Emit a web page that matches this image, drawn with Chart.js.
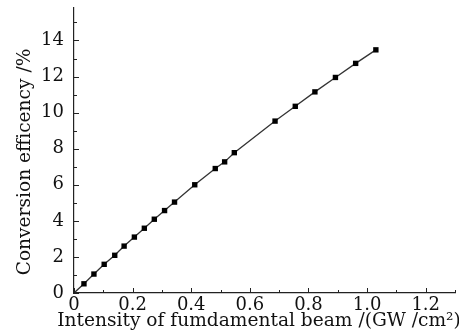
<!DOCTYPE html>
<html>
<head>
<meta charset="utf-8">
<script src="https://cdn.jsdelivr.net/npm/chart.js@4/dist/chart.umd.min.js"></script>
<style>
  html, body { margin: 0; padding: 0; background: #fff; }
  #wrap { width: 459px; height: 334px; position: relative; }
</style>
</head>
<body>
<div id="wrap"><canvas id="chart"></canvas></div>
<script>
// Data
const intensity = [0, 0.034, 0.068, 0.103, 0.139, 0.171, 0.206, 0.240, 0.274, 0.309, 0.343,
                   0.412, 0.482, 0.514, 0.547, 0.686, 0.755, 0.822, 0.892, 0.961, 1.030];
const efficiency = [0, 0.51, 1.05, 1.59, 2.09, 2.60, 3.10, 3.59, 4.09, 4.57, 5.04,
                    6.00, 6.90, 7.27, 7.78, 9.53, 10.35, 11.15, 11.95, 12.73, 13.48];

const xTicks = [0, 0.2, 0.4, 0.6, 0.8, 1.0, 1.2];
const yTicks = [0, 2, 4, 6, 8, 10, 12, 14];
const xTitle = 'Intensity of fumdamental beam /(GW /cm\u00B2)';
const yTitle = 'Conversion efficency /%';

const serif = '"DejaVu Serif", "Liberation Serif", serif';

// Inward tick marks (major + minor) and axis titles
const axisExtras = {
  id: 'axisExtras',
  afterDraw(chart) {
    const { ctx, chartArea, scales } = chart;
    const x = scales.x, y = scales.y;
    ctx.save();
    ctx.strokeStyle = '#222';
    ctx.lineWidth = 1;
    ctx.beginPath();
    for (let i = 0; i <= 15; i++) {
      const py = Math.round(y.getPixelForValue(i)) + 0.5;
      const len = i % 2 === 0 ? 5 : 3;
      ctx.moveTo(chartArea.left, py);
      ctx.lineTo(chartArea.left + len, py);
    }
    for (let i = 0; i <= 13; i++) {
      const px = Math.round(x.getPixelForValue(i / 10)) + 0.5;
      const len = i % 2 === 0 ? 5 : 3;
      ctx.moveTo(px, chartArea.bottom);
      ctx.lineTo(px, chartArea.bottom - len);
    }
    ctx.stroke();

    // titles
    ctx.fillStyle = '#111';
    ctx.font = '18.6px ' + serif;
    ctx.textAlign = 'center';
    ctx.textBaseline = 'middle';
    ctx.fillText(xTitle, 259, 321);
    ctx.translate(25, 162);
    ctx.rotate(-Math.PI / 2);
    ctx.fillText(yTitle, 0, 0);
    ctx.restore();
  }
};

// fixed axis sizes, no extra label padding
function fixX(s) {
  s.height = 41;
  s.paddingLeft = 0; s.paddingRight = 0; s.paddingTop = 0; s.paddingBottom = 0;
}
function fixY(s) {
  s.width = 74;
  s.paddingLeft = 0; s.paddingRight = 0; s.paddingTop = 0; s.paddingBottom = 0;
}

new Chart(document.getElementById('chart'), {
  type: 'scatter',
  data: {
    datasets: [{
      data: intensity.map((v, i) => ({ x: v, y: efficiency[i] })),
      showLine: true,
      borderColor: '#333',
      borderWidth: 1.3,
      backgroundColor: '#000',
      pointBackgroundColor: '#000',
      pointBorderColor: '#000',
      pointBorderWidth: 0,
      pointStyle: 'rect',
      pointRadius: intensity.map((v, i) => i === 0 ? 0 : 3.8),
      tension: 0
    }]
  },
  options: {
    responsive: true,
    maintainAspectRatio: false,
    animation: false,
    layout: { padding: { top: 8, right: 0, left: 0, bottom: 0 } },
    plugins: { legend: { display: false }, tooltip: { enabled: false } },
    scales: {
      x: {
        type: 'linear',
        min: 0,
        max: 1.3,
        afterFit: fixX,
        afterBuildTicks: s => { s.ticks = xTicks.map(v => ({ value: v })); },
        border: { display: true, color: '#222', width: 1.2 },
        grid: { display: false, drawTicks: false },
        ticks: {
          padding: 2,
          color: '#111',
          font: { family: serif, size: 18 },
          maxRotation: 0,
          callback: v => v === 0 ? '0' : v.toFixed(1)
        },
        title: { display: false }
      },
      y: {
        type: 'linear',
        min: 0,
        max: 15.8,
        afterFit: fixY,
        afterBuildTicks: s => { s.ticks = yTicks.map(v => ({ value: v })); },
        border: { display: true, color: '#222', width: 1.2 },
        grid: { display: false, drawTicks: false },
        ticks: {
          padding: 10,
          color: '#111',
          font: { family: serif, size: 18 },
          callback: v => String(v)
        },
        title: { display: false }
      }
    }
  },
  plugins: [axisExtras]
});
</script>
</body>
</html>
